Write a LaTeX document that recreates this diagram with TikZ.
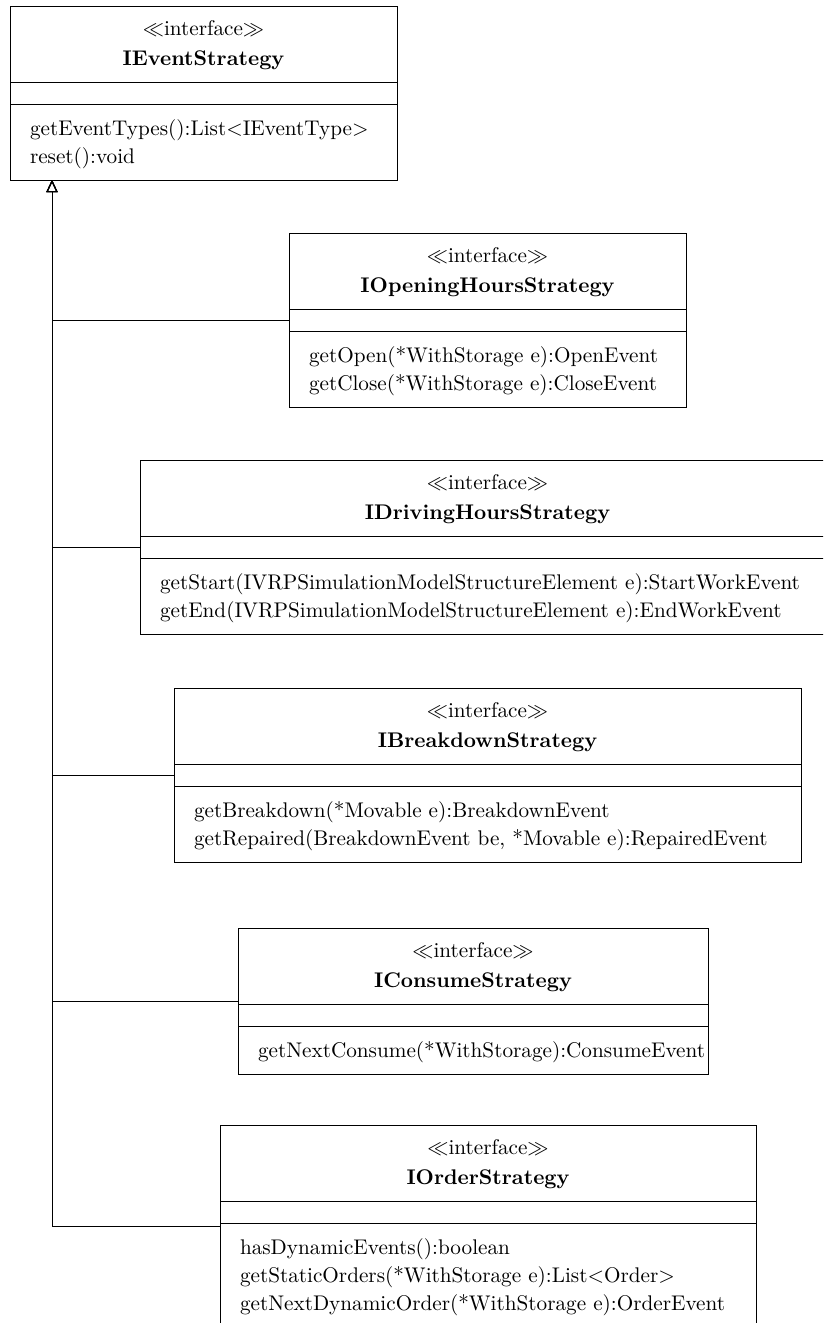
\documentclass[tikz,border=0pt]{standalone}
\usetikzlibrary{arrows.meta}
% text is set at 10pt design size and enlarged as a whole
\newcommand\tx[1]{\scalebox{2.12}{\fontsize{10}{12}\selectfont #1}}
\begin{document}
\begin{tikzpicture}[x=1pt,y=-1pt,
  every node/.style={inner sep=0pt, outer sep=0pt},
  classbox/.style={draw, line width=1pt, anchor=north west},
  compsep/.style={line width=1pt},
  stereo/.style={anchor=base},
  cname/.style={anchor=base},
  opline/.style={anchor=base west},
  impl/.style={line width=1pt, -{Triangle[open, length=12pt, width=11pt, line width=1pt]}}]

\clip (0,0) rectangle (823,1323);
\useasboundingbox (0,0) rectangle (823,1323);

% interface box: name, left, top, right, bottom, title
\newcommand\ifacebox[6]{%
  \node[classbox, minimum width=#4-#2, minimum height=#5-#3] (#1) at (#2,#3) {};
  \draw[compsep] ([yshift=-76pt]#1.north west) -- ([yshift=-76pt]#1.north east);
  \draw[compsep] ([yshift=-98pt]#1.north west) -- ([yshift=-98pt]#1.north east);
  \node[stereo] (#1-st) at ([yshift=-29pt]#1.north) {\tx{$\ll$interface$\gg$}};
  \node[cname] (#1-nm) at ([yshift=-59pt]#1.north) {\tx{\bfseries #6}};
}
% operation line: box name, line index, text
\newcommand\opat[3]{%
  \node[opline] (#1-op#2) at ([xshift=20pt,yshift={-129pt-28pt*(#2-1)}]#1.north west) {\tx{#3}};
}

\ifacebox{ev}{10}{6}{397}{180}{IEventStrategy}
\opat{ev}{1}{getEventTypes():List$<$IEventType$>$}
\opat{ev}{2}{reset():void}

\ifacebox{oh}{289}{233}{686}{407}{IOpeningHoursStrategy}
\opat{oh}{1}{getOpen(*WithStorage e):OpenEvent}
\opat{oh}{2}{getClose(*WithStorage e):CloseEvent}

\ifacebox{dh}{140}{460}{835}{634}{IDrivingHoursStrategy}
\opat{dh}{1}{getStart(IVRPSimulationModelStructureElement e):StartWorkEvent}
\opat{dh}{2}{getEnd(IVRPSimulationModelStructureElement e):EndWorkEvent}

\ifacebox{bd}{174}{688}{801}{862}{IBreakdownStrategy}
\opat{bd}{1}{getBreakdown(*Movable e):BreakdownEvent}
\opat{bd}{2}{getRepaired(BreakdownEvent be, *Movable e):RepairedEvent}

\ifacebox{cs}{238}{928}{708}{1074}{IConsumeStrategy}
\opat{cs}{1}{getNextConsume(*WithStorage):ConsumeEvent}

\ifacebox{or}{220}{1125}{756}{1327}{IOrderStrategy}
\opat{or}{1}{hasDynamicEvents():boolean}
\opat{or}{2}{getStaticOrders(*WithStorage e):List$<$Order$>$}
\opat{or}{3}{getNextDynamicOrder(*WithStorage e):OrderEvent}

% realization links, all joining one trunk below IEventStrategy
\coordinate (tip) at ([xshift=42pt]ev.south west);
\foreach \c in {oh,dh,bd,cs,or}{
  \draw[impl] (\c.west) -| (tip);
}
\end{tikzpicture}
\end{document}
